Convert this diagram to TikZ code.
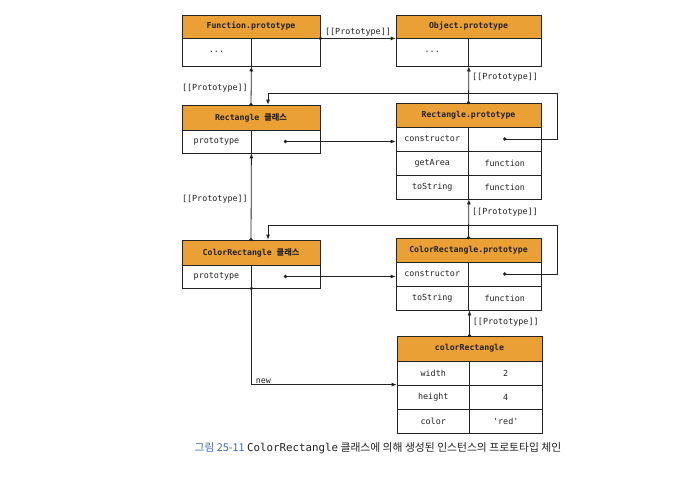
\documentclass[tikz,border=0pt]{standalone}
\usepackage{fontspec}
\setmonofont{DejaVu Sans Mono}
\newfontfamily\kr{Noto Sans CJK KR}
\usetikzlibrary{arrows.meta}
\definecolor{hdrorange}{RGB}{234,160,52}
\definecolor{capblue}{RGB}{60,110,180}
\definecolor{ink}{RGB}{35,35,35}
\tikzset{
  hdr/.style={draw=ink, fill=hdrorange, line width=0.8pt, inner sep=0pt, text=ink,
    font=\fontsize{8.2}{10}\selectfont\ttfamily\bfseries},
  cell/.style={draw=ink, fill=white, line width=0.8pt, inner sep=0pt, text=ink,
    font=\fontsize{8.4}{10}\selectfont\ttfamily},
  conn/.style={draw=ink, line width=0.8pt, -{Latex[length=5pt,width=4pt]}},
  lbl/.style={text=ink, inner sep=1pt, font=\fontsize{8.4}{10}\selectfont\ttfamily},
  dotc/.style={fill=ink}
}
\begin{document}
\begin{tikzpicture}[x=1pt,y=-1pt]
\useasboundingbox[fill=white] (0,0) rectangle (679,476);

% Function.prototype
\node[hdr, minimum width=138pt, minimum height=23pt] (fph) at (251,26.5) {Function.prototype};
\node[cell, minimum width=69pt, minimum height=28pt] (fpk) at (216.5,52) {...};
\node[cell, minimum width=69pt, minimum height=28pt] (fpv) at (285.5,52) {};

% Object.prototype
\node[hdr, minimum width=145pt, minimum height=23pt] (oph) at (468.5,26.5) {Object.prototype};
\node[cell, minimum width=72.5pt, minimum height=28pt] (opk) at (432.25,52) {...};
\node[cell, minimum width=72.5pt, minimum height=28pt] (opv) at (504.75,52) {};

% Rectangle class
\node[hdr, minimum width=138pt, minimum height=25pt] (rch) at (251,117.5) {Rectangle {\kr 클래스}};
\node[cell, minimum width=69pt, minimum height=23pt] (rck) at (216.5,141.5) {prototype};
\node[cell, minimum width=69pt, minimum height=23pt] (rcv) at (285.5,141.5) {};

% Rectangle.prototype
\node[hdr, minimum width=145pt, minimum height=24pt] (rph) at (468.5,115) {Rectangle.prototype};
\node[cell, minimum width=72.5pt, minimum height=24pt] (rpk1) at (432.25,139) {constructor};
\node[cell, minimum width=72.5pt, minimum height=24pt] (rpv1) at (504.75,139) {};
\node[cell, minimum width=72.5pt, minimum height=24pt] (rpk2) at (432.25,163) {getArea};
\node[cell, minimum width=72.5pt, minimum height=24pt] (rpv2) at (504.75,163) {function};
\node[cell, minimum width=72.5pt, minimum height=24pt] (rpk3) at (432.25,187) {toString};
\node[cell, minimum width=72.5pt, minimum height=24pt] (rpv3) at (504.75,187) {function};

% ColorRectangle class
\node[hdr, minimum width=138pt, minimum height=25pt] (crch) at (251,252.5) {ColorRectangle {\kr 클래스}};
\node[cell, minimum width=69pt, minimum height=23pt] (crck) at (216.5,276.5) {prototype};
\node[cell, minimum width=69pt, minimum height=23pt] (crcv) at (285.5,276.5) {};

% ColorRectangle.prototype
\node[hdr, minimum width=145pt, minimum height=24pt] (crph) at (468.5,250) {ColorRectangle.prototype};
\node[cell, minimum width=72.5pt, minimum height=24pt] (crpk1) at (432.25,274) {constructor};
\node[cell, minimum width=72.5pt, minimum height=24pt] (crpv1) at (504.75,274) {};
\node[cell, minimum width=72.5pt, minimum height=24pt] (crpk2) at (432.25,298) {toString};
\node[cell, minimum width=72.5pt, minimum height=24pt] (crpv2) at (504.75,298) {function};

% colorRectangle instance
\node[hdr, minimum width=145pt, minimum height=25pt] (ch) at (469.5,348.5) {colorRectangle};
\node[cell, minimum width=72.5pt, minimum height=24pt] (ck1) at (433.25,373) {width};
\node[cell, minimum width=72.5pt, minimum height=24pt] (cv1) at (505.75,373) {2};
\node[cell, minimum width=72.5pt, minimum height=24pt] (ck2) at (433.25,397) {height};
\node[cell, minimum width=72.5pt, minimum height=24pt] (cv2) at (505.75,397) {4};
\node[cell, minimum width=72.5pt, minimum height=24pt] (ck3) at (433.25,421) {color};
\node[cell, minimum width=72.5pt, minimum height=24pt] (cv3) at (505.75,421) {'red'};

% helper coordinates
\coordinate (c1) at (557,93);
\coordinate (c2) at (557,225);

% connectors
\draw[conn] (fph.south east) -- node[lbl, above=1pt] {[[Prototype]]} (oph.south west);
\fill[dotc] (fph.south east) circle (1.8pt);

\draw[conn] (rch.north) -- node[lbl, left=2pt, pos=0.44] {[[Prototype]]} (fpk.south east);
\fill[dotc] (rch.north) circle (1.8pt);

\draw[conn] (rph.north) -- node[lbl, right=2pt, pos=0.7] {[[Prototype]]} (opk.south east);
\fill[dotc] (rph.north) circle (1.8pt);

\draw[conn] (rpv1.center) -| (c1) -| ([xshift=17pt]rch.north);
\fill[dotc] (rpv1.center) circle (1.8pt);

\draw[conn] (rcv.center) -- (rcv.center -| rpk1.west);
\fill[dotc] (rcv.center) circle (1.8pt);

\draw[conn] (crch.north) -- node[lbl, left=2pt, pos=0.47] {[[Prototype]]} (rck.south east);
\fill[dotc] (crch.north) circle (1.8pt);

\draw[conn] (crph.north) -- node[lbl, right=2pt, pos=0.67] {[[Prototype]]} (rpk3.south east);
\fill[dotc] (crph.north) circle (1.8pt);

\draw[conn] (crpv1.center) -| (c2) -| ([xshift=17pt]crch.north);
\fill[dotc] (crpv1.center) circle (1.8pt);

\draw[conn] (crcv.center) -- (crcv.center -| crpk1.west);
\fill[dotc] (crcv.center) circle (1.8pt);

\draw[conn] (ch.north) -- node[lbl, right=2pt, pos=0.55] {[[Prototype]]} (ch.north |- crpk2.south);
\fill[dotc] (ch.north) circle (1.8pt);

\draw[conn] (crck.south east) |- node[lbl, pos=0.5, anchor=south west, xshift=3pt, yshift=0pt] {new} (ck2.north west);
\fill[dotc] (crck.south east) circle (1.8pt);

% caption
\node[font=\fontsize{10.8}{13}\selectfont\kr, text=ink, inner sep=0pt] (cap) at (378,448)
  {{\color{capblue}그림 25-11} {\ttfamily ColorRectangle} 클래스에 의해 생성된 인스턴스의 프로토타입 체인};
\end{tikzpicture}
\end{document}
